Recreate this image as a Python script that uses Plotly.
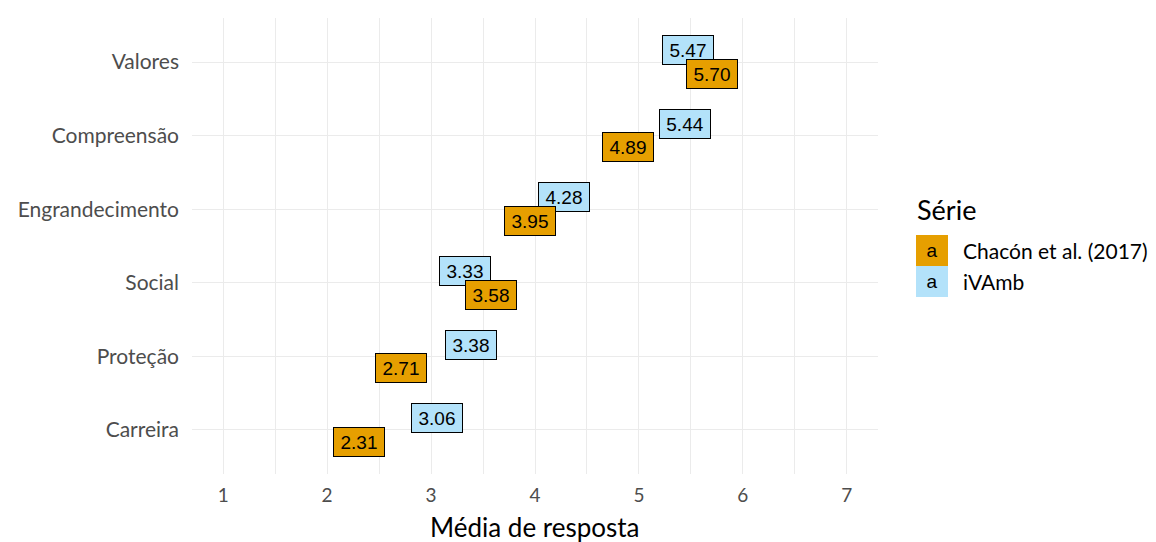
import plotly.graph_objects as go

categories = ["Carreira", "Proteção", "Social", "Engrandecimento", "Compreensão", "Valores"]
ivamb = [3.06, 3.38, 3.33, 4.28, 5.44, 5.47]
chacon = [2.31, 2.71, 3.58, 3.95, 4.89, 5.70]
series_names = ["Chacón et al. (2017)", "iVAmb"]
series_colors = {"Chacón et al. (2017)": "#E69F00", "iVAmb": "#B3E2FA"}
x_ticks = [1, 2, 3, 4, 5, 6, 7]
x_title = "Média de resposta"

UI_FONT = "Lato, 'Noto Sans', sans-serif"
LBL_FONT = "'Liberation Sans', Arial, sans-serif"
OFF = 0.16

L, R, T, B = 192, 278, 18, 68
PW, PH = 1156 - L - R, 542 - T - B


def px(xp):
    return (xp - L) / PW


def py(yp):
    return 1 - (yp - T) / PH


fig = go.Figure()
fig.add_trace(go.Scatter(x=ivamb + chacon, y=[i + 1 for i in range(6)] * 2,
                         mode="markers", marker=dict(opacity=0), showlegend=False,
                         hoverinfo="skip"))

annotations = []
for vals, name, off in [(ivamb, "iVAmb", OFF), (chacon, "Chacón et al. (2017)", -OFF)]:
    for i, v in enumerate(vals):
        annotations.append(dict(
            x=v, y=i + 1 + off, xref="x", yref="y", text=f"{v:.2f}",
            showarrow=False, font=dict(family=LBL_FONT, size=19, color="black"),
            bgcolor=series_colors[name], bordercolor="black", borderwidth=1,
            borderpad=3, width=44, height=22, xanchor="center", yanchor="middle"))

# legend (ggplot-style label keys)
annotations.append(dict(x=px(915), y=py(209), xref="paper", yref="paper",
                        text="Série", showarrow=False, xanchor="left", yanchor="middle",
                        font=dict(family=UI_FONT, size=27, color="black")))
for k, name in enumerate(series_names):
    yc = 250 + 31 * k
    annotations.append(dict(x=px(916), y=py(yc), xref="paper", yref="paper",
                            text="a", showarrow=False, xanchor="left", yanchor="middle",
                            font=dict(family=LBL_FONT, size=19, color="black"),
                            bgcolor=series_colors[name], borderwidth=0, width=32, height=31,
                            borderpad=0))
    annotations.append(dict(x=px(961), y=py(yc), xref="paper", yref="paper",
                            text=name, showarrow=False, xanchor="left", yanchor="middle",
                            font=dict(family=UI_FONT, size=21, color="black")))

# x-axis title
annotations.append(dict(x=0.5, y=py(527), xref="paper", yref="paper", text=x_title,
                        showarrow=False, xanchor="center", yanchor="middle",
                        font=dict(family=UI_FONT, size=26, color="black")))

# title (clipped at top, as in the reference)
annotations.append(dict(x=px(614), y=py(2), xref="paper", yref="paper",
                        text="Chacón et al. (2017)", showarrow=False, xanchor="right",
                        yanchor="bottom", borderpad=0,
                        font=dict(family=UI_FONT, size=24, color="black")))

fig.update_layout(
    width=1156, height=542,
    margin=dict(l=L, r=R, t=T, b=B, autoexpand=False),
    plot_bgcolor="white", paper_bgcolor="white",
    showlegend=False,
    annotations=annotations,
    xaxis=dict(range=[0.7, 7.3], tickvals=x_ticks, ticktext=[str(t) for t in x_ticks],
               showgrid=True, gridcolor="#EBEBEB", gridwidth=1.2, zeroline=False,
               showline=False, ticks="", ticklabelstandoff=8, automargin=False,
               minor=dict(dtick=0.5, tick0=0.5, showgrid=True, gridcolor="#EBEBEB", gridwidth=1.2),
               tickfont=dict(family=UI_FONT, size=19, color="#4D4D4D")),
    yaxis=dict(range=[0.4, 6.6], tickvals=list(range(1, 7)), ticktext=categories,
               showgrid=True, gridcolor="#EBEBEB", gridwidth=1.2, zeroline=False,
               showline=False, ticks="", ticklabelstandoff=12, automargin=False,
               tickfont=dict(family=UI_FONT, size=21, color="#4D4D4D")),
)

fig.write_html("out.html", config={"displayModeBar": False},
               post_script="document.body.style.margin='0';document.body.style.overflow='hidden';")
